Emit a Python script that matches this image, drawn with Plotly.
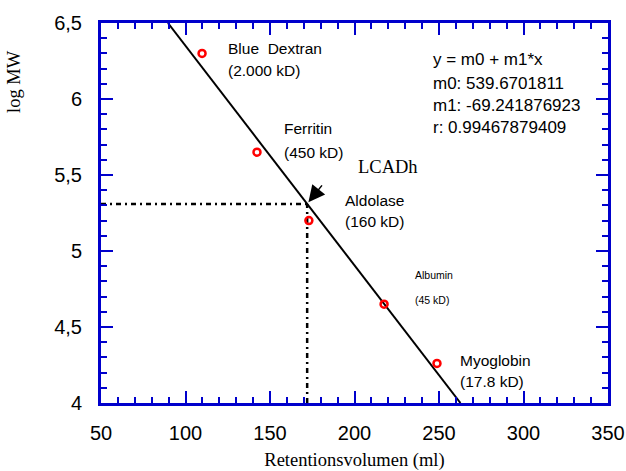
import plotly.graph_objects as go

# data
proteins = ["Blue Dextran", "Ferritin", "Aldolase", "Albumin", "Myoglobin"]
ret_vol = [109.8, 142.3, 173.0, 217.5, 248.8]
log_mw = [6.30, 5.65, 5.20, 4.65, 4.26]
label_lines = [["Blue  Dextran", "(2.000 kD)"], ["Ferritin", "(450 kD)"],
               ["Aldolase", "(160 kD)"], ["Albumin", "(45 kD)"], ["Myoglobin", "(17.8 kD)"]]
m0 = 539.6701811
m1 = -69.241876923
r_val = 0.99467879409
fit_y = [6.5, 4.0]
lcadh_y = 5.31
x_ticks = [50, 100, 150, 200, 250, 300, 350]
y_ticks = [4, 4.5, 5, 5.5, 6, 6.5]
y_tick_text = ["4", "4,5", "5", "5,5", "6", "6,5"]
eq_lines = ["y = m0 + m1*x", "m0: " + str(m0), "m1: " + str(m1), "r: " + str(r_val)]

fit_x = [m0 + m1 * y for y in fit_y]
lcadh_x = m0 + m1 * lcadh_y

blue = "#0000CC"
sans = "Liberation Sans, Arial, sans-serif"
serif = "Liberation Serif, Times New Roman, serif"

fig = go.Figure()
fig.add_trace(go.Scatter(x=fit_x, y=fit_y, mode="lines",
                         line=dict(color="black", width=2), showlegend=False))
fig.add_trace(go.Scatter(x=[50, lcadh_x], y=[lcadh_y, lcadh_y], mode="lines",
                         line=dict(color="black", width=2.5, dash="5px,4px,2px,4px"), showlegend=False))
fig.add_trace(go.Scatter(x=[lcadh_x, lcadh_x], y=[4, lcadh_y], mode="lines",
                         line=dict(color="black", width=2.5, dash="5px,4px,2px,4px"), showlegend=False))
fig.add_trace(go.Scatter(x=ret_vol, y=log_mw, mode="markers",
                         marker=dict(symbol="circle-open", size=7, color="red", line=dict(width=2.5, color="red")),
                         showlegend=False))

# per-line label shifts (pixels) relative to each point: (dx, dy_line1, dy_line2)
shifts = [(24, 5, -17), (25, 24, 0), (34, 20, -1), (29, 29, 4), (21, 3, -18)]
fonts = [(sans, 15.5), (sans, 15.5), (sans, 15.5), (sans, 10.5), (sans, 15.5)]
for x, y, lines, (dx, d1, d2), (fam, s) in zip(ret_vol, log_mw, label_lines, shifts, fonts):
    for txt, dy in zip(lines, (d1, d2)):
        fig.add_annotation(x=x, y=y, xref="x", yref="y", text=txt, showarrow=False,
                           xanchor="left", yanchor="middle", xshift=dx, yshift=dy,
                           font=dict(family=fam, size=s, color="black"))

eq_py = [60, 83, 105, 128]
for txt, py in zip(eq_lines, eq_py):
    fig.add_annotation(x=(431 - 101) / 507, y=(403 - py) / 380, xref="paper", yref="paper",
                       text=txt, showarrow=False, xanchor="left", yanchor="middle",
                       font=dict(family=sans, size=17, color="black"))

fig.add_annotation(x=lcadh_x, y=lcadh_y, xref="x", yref="y", text="", showarrow=True,
                   arrowhead=2, arrowsize=2.2, arrowwidth=1.5, arrowcolor="black",
                   ax=16, ay=-20, standoff=2)
fig.add_annotation(x=lcadh_x, y=lcadh_y, xref="x", yref="y", text="LCADh", showarrow=False,
                   xanchor="left", yanchor="middle", xshift=49, yshift=37,
                   font=dict(family=serif, size=18.5, color="black"))

fig.add_annotation(x=(14 - 101) / 507, y=(403 - 82) / 380, xref="paper", yref="paper",
                   text="log MW", showarrow=False, textangle=-90, xanchor="center", yanchor="middle",
                   font=dict(family=serif, size=18.5, color="black"))

tick_common = dict(showgrid=False, zeroline=False, showline=True, linecolor=blue, linewidth=3,
                   ticks="inside", ticklen=12, tickwidth=2, tickcolor=blue, mirror="allticks",
                   automargin=False)
fig.update_layout(
    width=626, height=471, paper_bgcolor="white", plot_bgcolor="white",
    margin=dict(l=101, r=18, t=23, b=68),
    showlegend=False,
    xaxis=dict(range=[50, 350], tickvals=x_ticks, **tick_common,
               minor=dict(dtick=10, ticks="inside", ticklen=6, tickwidth=2, tickcolor=blue, showgrid=False),
               tickfont=dict(family=sans, size=20, color="black"), ticklabelstandoff=10,
               title=dict(text="Retentionsvolumen (ml)", font=dict(family=serif, size=18.5, color="black"), standoff=14)),
    yaxis=dict(range=[4, 6.5], tickvals=y_ticks, ticktext=y_tick_text, **tick_common,
               minor=dict(dtick=0.1, ticks="inside", ticklen=6, tickwidth=2, tickcolor=blue, showgrid=False),
               tickfont=dict(family=sans, size=20, color="black"), ticklabelstandoff=12),
)
fig.write_html("out.html")
